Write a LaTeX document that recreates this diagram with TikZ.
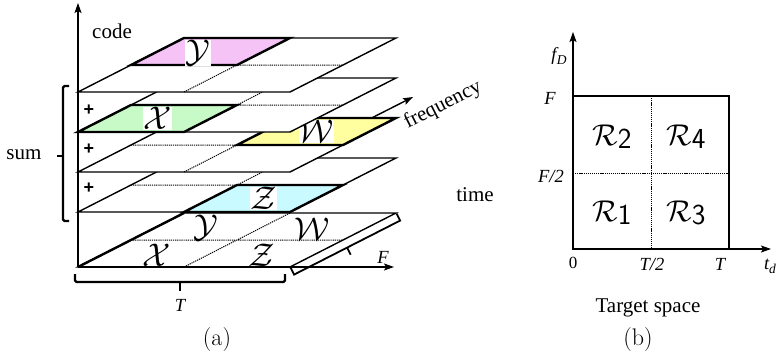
\documentclass[tikz,border=0pt]{standalone}
\usepackage{fontspec}
\newfontfamily\tms{Liberation Serif}
\newfontfamily\hel{Liberation Sans}
\usetikzlibrary{arrows.meta}
\definecolor{pinkc}{RGB}{245,195,245}
\definecolor{greenc}{RGB}{200,250,200}
\definecolor{yellowc}{RGB}{255,255,160}
\definecolor{cyanc}{RGB}{200,250,255}
\newcommand\layerframe{%
  \coordinate (FL) at (0,0); \coordinate (FR) at (212,0);
  \coordinate (BR) at (318,-54); \coordinate (BL) at (106,-54);
  \coordinate (ML) at (53,-27); \coordinate (MR) at (265,-27);
  \coordinate (FM) at (106,0); \coordinate (BM) at (212,-54);
  \coordinate (C) at (159,-27);
  \filldraw[lay] (FL)--(FR)--(BR)--(BL)--cycle;}
\newcommand\cl[1]{\scalebox{1.32}{$\mathcal{#1}$}}
\newcommand\rr[1]{\scalebox{1.45}{$\mathcal{R}$\raisebox{-2pt}{\sffamily #1}}}
\begin{document}
\begin{tikzpicture}[x=1pt,y=-1pt,
  lay/.style={fill=white,draw=black,line width=1.4pt,line join=miter},
  cellb/.style={line width=2.4pt,line join=miter},
  dotl/.style={line width=1pt,dash pattern=on 1.2pt off 0.9pt},
  axisl/.style={line width=1.4pt,-{Stealth[length=10pt,width=7pt,inset=2pt]}},
  brk/.style={line width=2.2pt},
  lbl/.style={fill=white,inner sep=0.4pt,font=\fontsize{24}{24}\selectfont},
  blbl/.style={inner sep=0.4pt,font=\fontsize{24}{24}\selectfont},
  tx/.style={font=\fontsize{21}{21}\selectfont\tms,inner sep=0pt},
  itx/.style={font=\fontsize{18.5}{18.5}\selectfont\tms\itshape,inner sep=0pt},
  plus/.style={font=\fontsize{18}{18}\selectfont\hel\bfseries,inner sep=0pt},
  captxt/.style={font=\fontsize{24}{24}\selectfont,inner sep=0pt},
  rl/.style={font=\fontsize{20}{20}\selectfont,inner sep=0pt}]
\useasboundingbox (0,0) rectangle (779,356);
% ---------- panel (a) axes ----------
\coordinate (O) at (78,267);
\coordinate (vtop) at (78,3);
\coordinate (ftip) at (413,97);
\coordinate (ttip) at (394,267);
\draw[axisl] (O) -- (ftip);
% base layer
\begin{scope}[shift={(78,267)}]
  \layerframe
  \draw[dotl] (ML)--(MR) (FM)--(BM);
  \draw[cellb] (FL)--(BL);
  \node[blbl] (bx) at (79,-12) {\cl{X}};
  \node[blbl] (bz) at (184,-12) {\cl{Z}};
  \node[blbl] (by) at (128,-39) {\cl{Y}};
  \node[blbl] (bw) at (234,-38) {\cl{W}};
\end{scope}
% Z layer
\begin{scope}[shift={(78,212)}]
  \layerframe
  \fill[cyanc] (FM)--(FR)--(MR)--(C)--cycle;
  \draw[dotl] (ML)--(MR) (FM)--(BM);
  \draw[cellb] (FM)--(FR)--(MR)--(C)--cycle;
  \node[lbl] (lz) at (185.5,-13.5) {\cl{Z}};
\end{scope}
% W layer
\begin{scope}[shift={(78,172)}]
  \layerframe
  \fill[yellowc] (C)--(MR)--(BR)--(BM)--cycle;
  \draw[dotl] (ML)--(MR) (FM)--(BM);
  \draw[cellb] (C)--(MR)--(BR)--(BM)--cycle;
  \node[lbl] (lw) at (238.5,-40.5) {\cl{W}};
\end{scope}
% X layer
\begin{scope}[shift={(78,132)}]
  \layerframe
  \fill[greenc] (FL)--(FM)--(C)--(ML)--cycle;
  \draw[dotl] (ML)--(MR) (FM)--(BM);
  \draw[cellb] (FL)--(FM)--(C)--(ML)--cycle;
  \node[lbl] (lx) at (79.5,-13.5) {\cl{X}};
\end{scope}
% Y layer
\begin{scope}[shift={(78,92)}]
  \layerframe
  \fill[pinkc] (ML)--(C)--(BM)--(BL)--cycle;
  \draw[dotl] (ML)--(MR) (FM)--(BM);
  \draw[cellb] (ML)--(C)--(BM)--(BL)--cycle;
  \node[lbl] (ly) at (120,-39) {\cl{Y}};
\end{scope}
\draw[axisl] (O) -- (vtop);
\draw[axisl] (O) -- (ttip);
% brackets
\coordinate (tb1) at (75,274); \coordinate (tb2) at (75,282);
\coordinate (tb3) at (285,282); \coordinate (tb4) at (285,274);
\coordinate (tbm) at (180,282); \coordinate (tbt) at (180,291);
\draw[brk,rounded corners=1.5pt] (tb1)--(tb2)--(tb3)--(tb4);
\draw[brk] (tbm)--(tbt);
\coordinate (sb1) at (69,86); \coordinate (sb2) at (63,86);
\coordinate (sb3) at (63,221); \coordinate (sb4) at (69,221);
\coordinate (sbm) at (63,156); \coordinate (sbt) at (57,156);
\draw[brk,rounded corners=1.5pt] (sb1)--(sb2)--(sb3)--(sb4);
\draw[brk] (sbm)--(sbt);
\coordinate (rb1) at (290.5,267.5); \coordinate (rb2) at (294.1,274.6);
\coordinate (rb3) at (400.1,220.6); \coordinate (rb4) at (396.5,213.5);
\coordinate (rbm) at (347.1,247.6); \coordinate (rbt) at (350.7,254.7);
\draw[brk,line width=1.8pt] (rb1)--(rb2)--(rb3)--(rb4);
\draw[brk,line width=1.8pt] (rbm)--(rbt);
% texts (a)
\node[tx] (code) at (112,31) {code};
\node[tx] (sum) at (24,155) {sum};
\node[tx] (time) at (475,195) {time};
\node[tx,rotate=27] (freq) at (443,105) {frequency};
\node[itx] (tT) at (180,305) {T};
\node[itx] (tF) at (383,257) {F};
\node[plus] (p1) at (89,110) {+};
\node[plus] (p2) at (89,149) {+};
\node[plus] (p3) at (89,188) {+};
\node[captxt] (capa) at (217,340) {(a)};
% ---------- panel (b) ----------
\coordinate (bO) at (573,249);
\coordinate (bvt) at (573,32);
\coordinate (bht) at (771,249);
\coordinate (bTR) at (729,96);
\draw[axisl,line width=1.1pt] (bO) -- (bvt);
\draw[axisl,line width=1.1pt] (bO) -- (bht);
\draw[dotl] (651,96) -- (651,249);
\draw[dotl] (573,173) -- (729,173);
\draw[line width=2.4pt,line join=miter] (bO) rectangle (bTR);
\node[rl] (r2) at (612,137) {\rr{2}};
\node[rl] (r4) at (686,137) {\rr{4}};
\node[rl] (r1) at (612,213) {\rr{1}};
\node[rl] (r3) at (686,213) {\rr{3}};
\node[itx] (fd) at (559,56) {f\kern0.5pt\raisebox{-4pt}{\fontsize{13.5}{13.5}\selectfont D}};
\node[itx] (bF) at (550,98) {F};
\node[itx] (bF2) at (551,176) {F/2};
\node[tx,font=\fontsize{17}{17}\selectfont\tms] (b0) at (573,263) {0};
\node[itx] (bT2) at (652,264) {T/2};
\node[itx] (bT) at (720,264) {T};
\node[itx] (btd) at (770,266) {t\raisebox{-4pt}{\fontsize{13.5}{13.5}\selectfont d}};
\node[tx] (ts) at (648,308) {Target space};
\node[captxt] (capb) at (638,340) {(b)};
\end{tikzpicture}
\end{document}
